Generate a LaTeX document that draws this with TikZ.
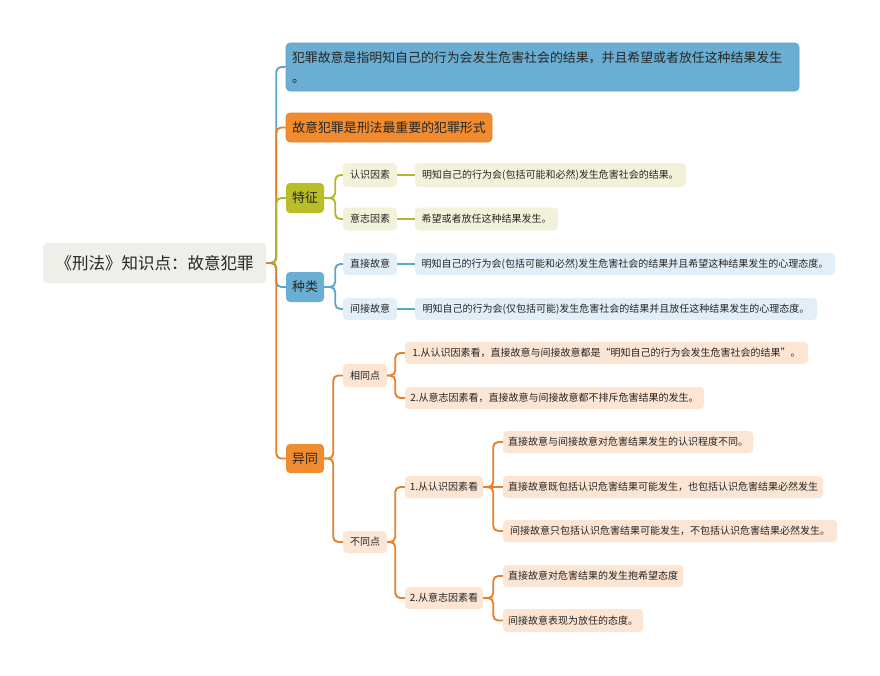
\documentclass[tikz,border=0pt]{standalone}
\usepackage{fontspec}
\setmainfont{Noto Sans CJK SC}
\definecolor{txt}{RGB}{38,38,38}
\definecolor{bluefill}{RGB}{106,175,211}
\definecolor{blueedge}{RGB}{92,160,200}
\definecolor{blueline}{RGB}{92,165,204}
\definecolor{orangefill}{RGB}{241,139,47}
\definecolor{orangeedge}{RGB}{228,126,38}
\definecolor{orangeline}{RGB}{232,128,40}
\definecolor{ygfill}{RGB}{183,190,40}
\definecolor{ygline}{RGB}{176,184,40}
\definecolor{lightyg}{RGB}{242,242,218}
\definecolor{lightblue}{RGB}{226,239,248}
\definecolor{peach}{RGB}{252,229,210}
\definecolor{rootfill}{RGB}{239,239,233}
\tikzset{
  box/.style={rounded corners=4pt, inner sep=0pt, text=txt, anchor=center, align=center},
  rootbox/.style={box, fill=rootfill, font=\fontsize{16.5}{20}\selectfont},
  bigbox/.style={box, font=\fontsize{12.9}{20}\selectfont},
  smallbox/.style={box, font=\fontsize{10}{12}\selectfont},
  link/.style={line width=1.9pt, rounded corners=5pt},
}
\begin{document}
\begin{tikzpicture}[x=1pt,y=-1pt]
\useasboundingbox[fill=white] (0,0) rectangle (880,675);
% root
\node[rootbox, minimum width=223pt, minimum height=40pt] (root) at (154.5,263) {《刑法》知识点：故意犯罪};
% level 1
\node[bigbox, fill=bluefill, draw=blueedge, line width=0.6pt, minimum width=513pt, minimum height=48pt, text width=501pt, align=left] (n1) at (542.5,67) {犯罪故意是指明知自己的行为会发生危害社会的结果，并且希望或者放任这种结果发生\\。};
\node[bigbox, fill=orangefill, draw=orangeedge, line width=0.6pt, minimum width=206pt, minimum height=29pt] (n2) at (389,127.5) {故意犯罪是刑法最重要的犯罪形式};
\node[bigbox, fill=ygfill, minimum width=38pt, minimum height=30pt] (tz) at (305,198) {特征};
\node[bigbox, fill=bluefill, minimum width=38pt, minimum height=30pt] (zl) at (305,287) {种类};
\node[bigbox, fill=orangefill, minimum width=38pt, minimum height=29pt] (yt) at (305,458.5) {异同};
% 特征
\node[smallbox, fill=lightyg, minimum width=54pt, minimum height=24pt] (rs) at (370,175) {认识因素};
\node[smallbox, fill=lightyg, minimum width=54pt, minimum height=23pt] (yz) at (370,219) {意志因素};
\node[smallbox, fill=lightyg, minimum width=271pt, minimum height=24pt] (rsl) at (550.5,175) {明知自己的行为会(包括可能和必然)发生危害社会的结果。};
\node[smallbox, fill=lightyg, minimum width=143pt, minimum height=23pt] (yzl) at (486.5,219) {希望或者放任这种结果发生。};
% 种类
\node[smallbox, fill=lightblue, minimum width=54pt, minimum height=22pt] (zj) at (370,264) {直接故意};
\node[smallbox, fill=lightblue, minimum width=54pt, minimum height=22pt] (jj) at (370,309) {间接故意};
\node[smallbox, fill=lightblue, minimum width=420pt, minimum height=22pt] (zjl) at (625,264) {明知自己的行为会(包括可能和必然)发生危害社会的结果并且希望这种结果发生的心理态度。};
\node[smallbox, fill=lightblue, minimum width=402pt, minimum height=22pt] (jjl) at (616,309) {明知自己的行为会(仅包括可能)发生危害社会的结果并且放任这种结果发生的心理态度。};
% 异同
\node[smallbox, fill=peach, minimum width=44pt, minimum height=23pt] (xt) at (365,375.5) {相同点};
\node[smallbox, fill=peach, minimum width=403pt, minimum height=22pt] (xt1) at (606.5,353) {1.从认识因素看，直接故意与间接故意都是“明知自己的行为会发生危害社会的结果”。};
\node[smallbox, fill=peach, minimum width=299pt, minimum height=22pt] (xt2) at (554.5,398) {2.从意志因素看，直接故意与间接故意都不排斥危害结果的发生。};
\node[smallbox, fill=peach, minimum width=44pt, minimum height=22pt] (bt) at (365,542) {不同点};
\node[smallbox, fill=peach, minimum width=78pt, minimum height=22pt] (b1) at (444,487) {1.从认识因素看};
\node[smallbox, fill=peach, minimum width=78pt, minimum height=22pt] (b2) at (444,598) {2.从意志因素看};
\node[smallbox, fill=peach, minimum width=250pt, minimum height=22pt] (b1a) at (628,442) {直接故意与间接故意对危害结果发生的认识程度不同。};
\node[smallbox, fill=peach, minimum width=320pt, minimum height=22pt] (b1b) at (663,487) {直接故意既包括认识危害结果可能发生，也包括认识危害结果必然发生};
\node[smallbox, fill=peach, minimum width=334pt, minimum height=22pt] (b1c) at (670,531) {间接故意只包括认识危害结果可能发生，不包括认识危害结果必然发生。};
\node[smallbox, fill=peach, minimum width=180pt, minimum height=22pt] (b2a) at (593,576) {直接故意对危害结果的发生抱希望态度};
\node[smallbox, fill=peach, minimum width=140pt, minimum height=23pt] (b2b) at (573,620.5) {间接故意表现为放任的态度。};
% trunk connectors
\draw[link, blueline] (root.east) -- ++(10,0) |- (n1.west);
\draw[link, orangeline] (root.east) -- ++(10,0) |- (n2.west);
\draw[link, ygline] (root.east) -- ++(10,0) |- (tz.west);
\draw[link, blueline] (root.east) -- ++(10,0) |- (zl.west);
\draw[link, orangeline] (root.east) -- ++(10,0) |- (yt.west);
% 特征
\draw[link, ygline] (tz.east) -- ++(11,0) |- (rs.west);
\draw[link, ygline] (tz.east) -- ++(11,0) |- (yz.west);
\draw[link, ygline] (rs.east) -- (rsl.west);
\draw[link, ygline] (yz.east) -- (yzl.west);
% 种类
\draw[link, blueline] (zl.east) -- ++(11,0) |- (zj.west);
\draw[link, blueline] (zl.east) -- ++(11,0) |- (jj.west);
\draw[link, blueline] (zj.east) -- (zjl.west);
\draw[link, blueline] (jj.east) -- (jjl.west);
% 异同
\draw[link, orangeline] (yt.east) -- ++(9,0) |- (xt.west);
\draw[link, orangeline] (yt.east) -- ++(9,0) |- (bt.west);
\draw[link, orangeline] (xt.east) -- ++(8,0) |- (xt1.west);
\draw[link, orangeline] (xt.east) -- ++(8,0) |- (xt2.west);
\draw[link, orangeline] (bt.east) -- ++(8,0) |- (b1.west);
\draw[link, orangeline] (bt.east) -- ++(8,0) |- (b2.west);
\draw[link, orangeline] (b1.east) -- ++(10,0) |- (b1a.west);
\draw[link, orangeline] (b1.east) -- (b1b.west);
\draw[link, orangeline] (b1.east) -- ++(10,0) |- (b1c.west);
\draw[link, orangeline] (b2.east) -- ++(10,0) |- (b2a.west);
\draw[link, orangeline] (b2.east) -- ++(10,0) |- (b2b.west);
\end{tikzpicture}
\end{document}
